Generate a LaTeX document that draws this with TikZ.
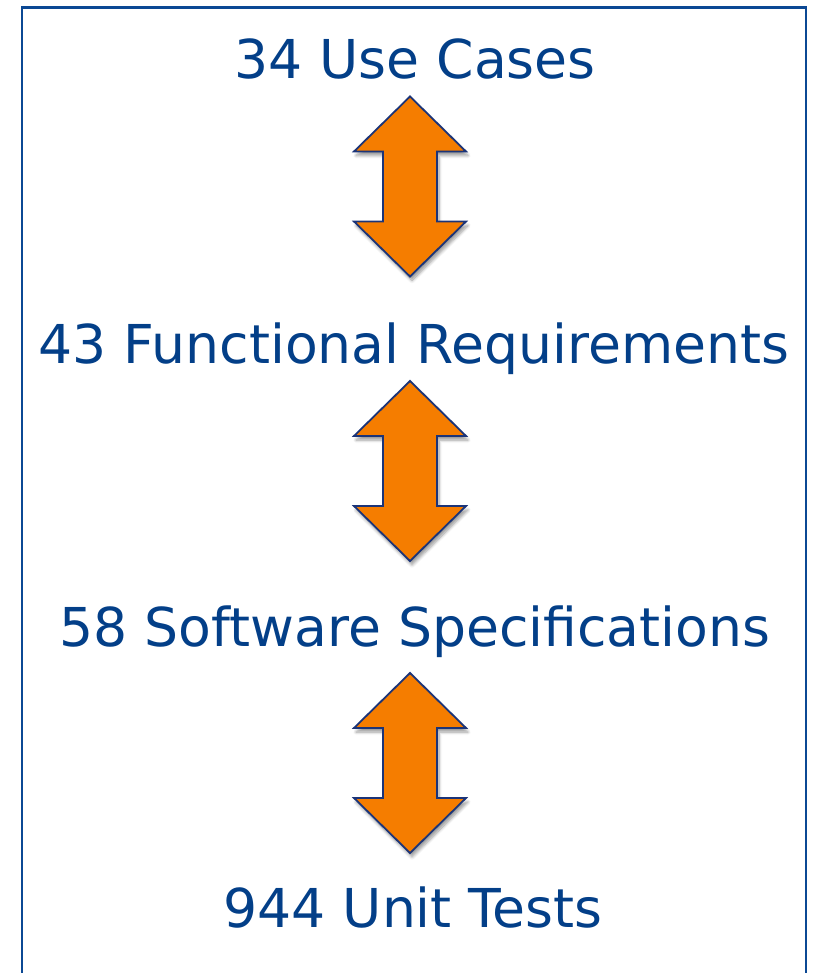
\documentclass[tikz,border=0pt]{standalone}
\usepackage{fontspec}
\setmainfont{DejaVu Sans}
\usetikzlibrary{shadows.blur}
\definecolor{navy}{HTML}{033F88}
\definecolor{framebl}{HTML}{0B4894}
\definecolor{arrowfill}{HTML}{F57D00}
\definecolor{arrowline}{HTML}{1B3478}
\tikzset{
  x=1pt, y=-1pt,
  level/.style={anchor=base, text=navy, inner sep=0pt,
    font=\fontsize{53.6}{60}\selectfont},
  updown/.pic={
    \path[fill=arrowfill, draw=arrowline, line width=1.8pt, line join=miter,
      blur shadow={shadow xshift=2pt, shadow yshift=-4pt,
        shadow opacity=40, shadow blur steps=6, shadow blur radius=3pt}]
      (0,-90) -- (56,-35) -- (27,-35) -- (27,35) -- (56,35) -- (0,90)
      -- (-56,35) -- (-27,35) -- (-27,-35) -- (-56,-35) -- cycle;
  }
}
\begin{document}
\begin{tikzpicture}
  \useasboundingbox (0,0) rectangle (812,973);
  % open frame round the stack
  \draw[framebl, line width=2.8pt] (22,980) -- (22,7.5) -- (806,7.5) -- (806,980);

  \node[level] (uc)  at (415,79)  {34 Use Cases};
  \node[level] (fr)  at (414,363) {43 Functional Requirements};
  \node[level] (ss)  at (415,646) {58 Software Specifications};
  \node[level] (ut)  at (413,927) {944 Unit Tests};

  \pic at (410,186.5) {updown};
  \pic at (410,471) {updown};
  \pic at (410,763) {updown};
\end{tikzpicture}
\end{document}
